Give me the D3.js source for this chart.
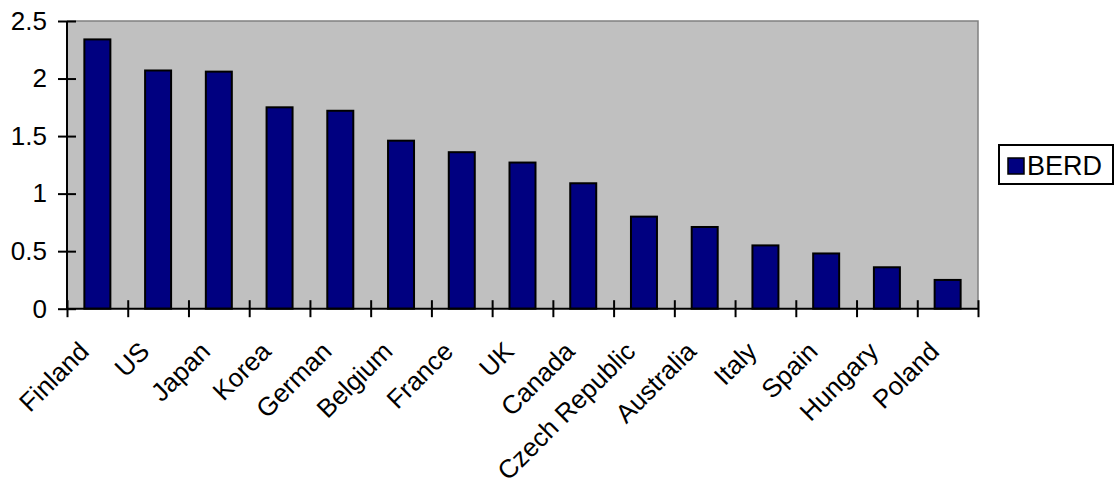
<!DOCTYPE html>
<html>
<head>
<meta charset="utf-8">
<script src="https://cdn.jsdelivr.net/npm/d3@7/dist/d3.min.js"></script>
<style>
  html, body { margin: 0; padding: 0; background: #fff; }
  svg { display: block; font-family: Arial, "Liberation Sans", sans-serif; }
</style>
</head>
<body>
<svg id="chart" width="1120" height="482"></svg>
<script>
// Business enterprise R&D expenditure by country
const countries = ["Finland", "US", "Japan", "Korea", "German", "Belgium", "France", "UK",
  "Canada", "Czech Republic", "Australia", "Italy", "Spain", "Hungary", "Poland"];
const berd = [2.34, 2.07, 2.06, 1.75, 1.72, 1.46, 1.36, 1.27, 1.09, 0.80, 0.71, 0.55, 0.48, 0.36, 0.25];
const yTicks = [0, 0.5, 1, 1.5, 2, 2.5];
const seriesName = "BERD";

const svg = d3.select("#chart");
const plotLeft = 67, plotRight = 978, plotTop = 21, plotBottom = 308.7;

const x = d3.scaleBand().domain(countries).range([plotLeft, plotRight])
  .paddingInner(0.572).paddingOuter(0.286);
const xEdge = d3.scaleLinear().domain([0, countries.length]).range([plotLeft, plotRight]);
const y = d3.scaleLinear().domain([0, 2.5]).range([plotBottom, plotTop]);

// plot area
svg.append("rect")
  .attr("x", plotLeft).attr("y", plotTop)
  .attr("width", plotRight - plotLeft).attr("height", plotBottom - plotTop)
  .attr("fill", "#c0c0c0");
svg.append("path")
  .attr("d", `M${plotLeft},${plotTop}H${plotRight}V${plotBottom}`)
  .attr("fill", "none").attr("stroke", "#808080").attr("stroke-width", 1.5);

// bars
svg.append("g").selectAll("rect")
  .data(countries)
  .join("rect")
  .attr("x", d => x(d))
  .attr("y", (d, i) => y(berd[i]))
  .attr("width", x.bandwidth())
  .attr("height", (d, i) => y(0) - y(berd[i]))
  .attr("fill", "#000080")
  .attr("stroke", "#000")
  .attr("stroke-width", 2);

// y axis
const yAxis = svg.append("g")
  .attr("transform", `translate(${plotLeft},0)`)
  .call(d3.axisLeft(y).tickValues(yTicks).tickSize(9).tickPadding(11)
    .tickFormat(d3.format("")));
yAxis.select(".domain").attr("stroke-width", 2).attr("d", `M0,${plotTop}V${plotBottom}`);
yAxis.selectAll(".tick line").attr("x1", 9).attr("stroke-width", 2);
yAxis.selectAll(".tick text")
  .attr("font-size", 26).attr("fill", "#000")
  .attr("font-family", "Arial, 'Liberation Sans', sans-serif");

// x axis with ticks between categories
const xAxis = svg.append("g")
  .attr("transform", `translate(0,${plotBottom})`)
  .call(d3.axisBottom(xEdge).tickValues(d3.range(countries.length + 1))
    .tickSize(8.5).tickFormat(""));
xAxis.select(".domain").attr("stroke-width", 2).attr("d", `M${plotLeft},0H${plotRight}`);
xAxis.selectAll(".tick line").attr("y1", -8.5).attr("stroke-width", 2);

// rotated category labels
svg.append("g").selectAll("text")
  .data(countries)
  .join("text")
  .attr("transform", d => `translate(${x(d) + x.bandwidth() / 2 - 7},353) rotate(-45)`)
  .attr("text-anchor", "end")
  .attr("font-size", 26)
  .attr("fill", "#000")
  .text(d => d);

// legend
const legend = svg.append("g");
legend.append("rect")
  .attr("x", 999).attr("y", 145).attr("width", 114).attr("height", 39)
  .attr("fill", "#fff").attr("stroke", "#000").attr("stroke-width", 2);
legend.append("rect")
  .attr("x", 1008).attr("y", 158).attr("width", 16).attr("height", 16)
  .attr("fill", "#000080").attr("stroke", "#000").attr("stroke-width", 1.5);
legend.append("text")
  .attr("x", 1027).attr("y", 175)
  .attr("font-size", 27).attr("fill", "#000")
  .text(seriesName);
</script>
</body>
</html>
